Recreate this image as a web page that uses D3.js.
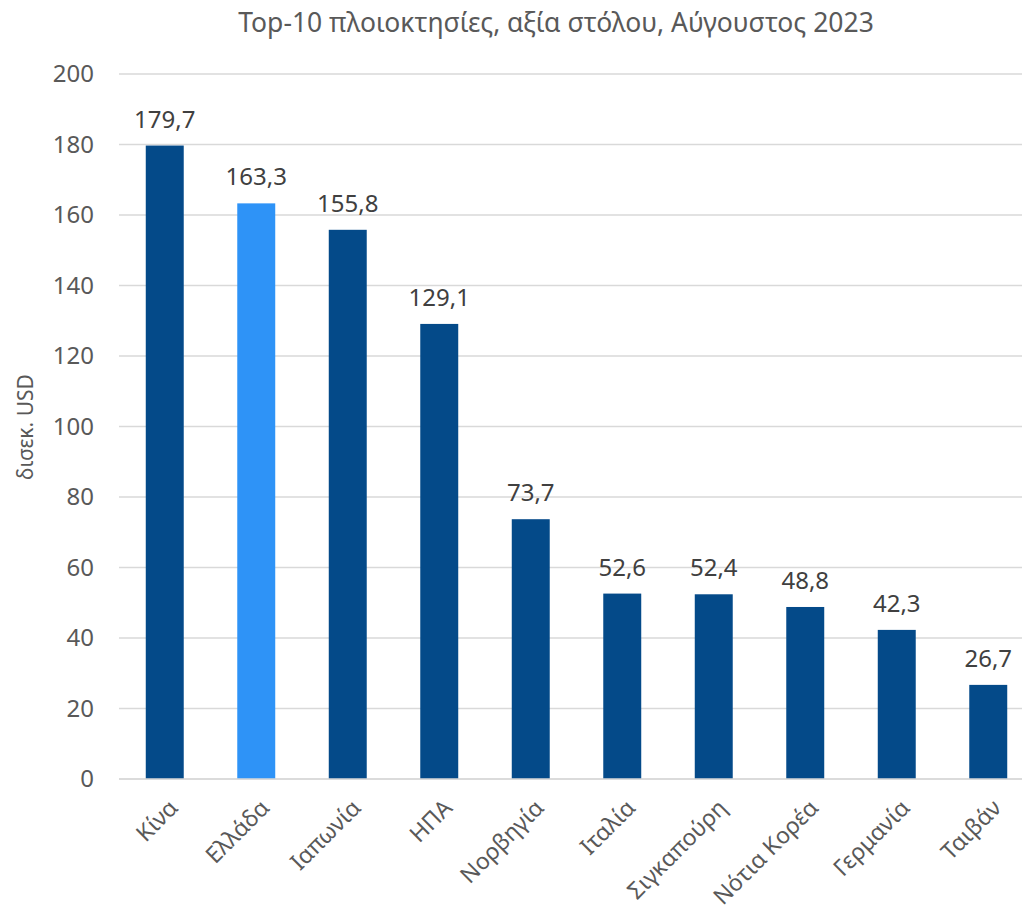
<!DOCTYPE html>
<html>
<head>
<meta charset="utf-8">
<script src="https://cdn.jsdelivr.net/npm/d3@7"></script>
<style>
  body { margin: 0; background: white; }
  text { font-family: "Noto Sans", sans-serif; }
</style>
</head>
<body>
<div id="chart"></div>
<script>
// data
let countries = ["Κίνα", "Ελλάδα", "Ιαπωνία", "ΗΠΑ", "Νορβηγία", "Ιταλία", "Σιγκαπούρη", "Νότια Κορέα", "Γερμανία", "Ταιβάν"];
let fleetValue = [179.7, 163.3, 155.8, 129.1, 73.7, 52.6, 52.4, 48.8, 42.3, 26.7];
let yTicks = [0, 20, 40, 60, 80, 100, 120, 140, 160, 180, 200];
let highlight = "Ελλάδα";

let width = 1022, height = 917;

var svg = d3.select("#chart")
  .append("svg")
    .attr("width", width)
    .attr("height", height);

var x = d3.scaleBand()
  .domain(countries)
  .range([119, 1034])
  .paddingInner(0.585)
  .paddingOuter(0.2925);

var y = d3.scaleLinear()
  .domain([0, 200])
  .range([779, 74]);

// title
svg.append("text")
  .attr("x", 556)
  .attr("y", 32)
  .attr("text-anchor", "middle")
  .attr("fill", "#595959")
  .style("font-size", "26.5px")
  .text("Top-10 πλοιοκτησίες, αξία στόλου, Αύγουστος 2023");

// gridlines
svg.append("g")
  .selectAll("line")
  .data(yTicks)
  .enter()
  .append("line")
    .attr("x1", 119)
    .attr("x2", 1034)
    .attr("y1", d => y(d))
    .attr("y2", d => y(d))
    .attr("stroke", "#d9d9d9")
    .attr("stroke-width", 1.5);

// y axis labels
var yAxis = svg.append("g")
  .attr("transform", "translate(119,0)")
  .call(d3.axisLeft(y).tickValues(yTicks).tickSize(0).tickPadding(25));
yAxis.select(".domain").remove();
yAxis.selectAll("text")
  .attr("fill", "#595959")
  .style("font-family", "'Noto Sans', sans-serif")
  .style("font-size", "24px");

// axis title
svg.append("text")
  .attr("transform", "translate(33,427) rotate(-90)")
  .attr("text-anchor", "middle")
  .attr("fill", "#595959")
  .style("font-size", "21px")
  .text("δισεκ. USD");

// bars
svg.selectAll(".bar")
  .data(countries)
  .enter()
  .append("rect")
    .attr("class", "bar")
    .attr("x", d => x(d))
    .attr("y", (d, i) => y(fleetValue[i]))
    .attr("width", x.bandwidth())
    .attr("height", (d, i) => y(0) - y(fleetValue[i]))
    .attr("fill", d => d == highlight ? "#2e93f7" : "#044a89");

// value labels
svg.selectAll(".val")
  .data(countries)
  .enter()
  .append("text")
    .attr("class", "val")
    .attr("x", d => x(d) + x.bandwidth() / 2)
    .attr("y", (d, i) => y(fleetValue[i]) - 18)
    .attr("text-anchor", "middle")
    .attr("fill", "#404040")
    .style("font-size", "24px")
    .text((d, i) => fleetValue[i].toFixed(1).replace(".", ","));

// x axis line
svg.append("line")
  .attr("x1", 119)
  .attr("x2", 1034)
  .attr("y1", y(0))
  .attr("y2", y(0))
  .attr("stroke", "#d9d9d9")
  .attr("stroke-width", 1.5);

// category labels, rotated
svg.selectAll(".cat")
  .data(countries)
  .enter()
  .append("text")
    .attr("class", "cat")
    .attr("transform", d => "translate(" + (x(d) + x.bandwidth() / 2 + 3) + ",798) rotate(-45)")
    .attr("text-anchor", "end")
    .attr("dy", "0.7em")
    .attr("fill", "#595959")
    .style("font-size", "23px")
    .text(d => d);
</script>
</body>
</html>
